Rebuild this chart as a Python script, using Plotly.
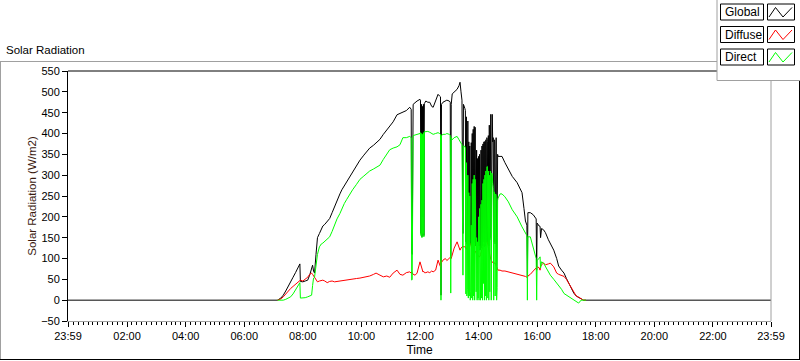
import pandas as pd
import plotly.graph_objects as go

# ---------------- data ----------------
DAY = "2024-01-02 "
START = "2024-01-01 23:59"
END = "2024-01-02 23:59"

times = [
    "07:08", "07:15", "07:20", "07:25", "07:30", "07:35", "07:40", "07:45", "07:50", "07:54",
    "07:55", "08:00", "08:05", "08:10", "08:14", "08:18", "08:20", "08:22", "08:24", "08:27",
    "08:30", "08:34", "08:38", "08:41", "08:45", "08:50", "08:55", "09:00", "09:05", "09:10",
    "09:16", "09:20", "09:25", "09:30", "09:36", "09:42", "09:50", "09:57", "10:05", "10:10",
    "10:17", "10:25", "10:30", "10:38", "10:45", "10:52", "10:58", "11:05", "11:13", "11:19",
    "11:25", "11:32", "11:39", "11:42", "11:43", "11:44", "11:46", "11:50", "11:54", "12:00",
    "12:01", "12:02", "12:03", "12:04", "12:05", "12:06", "12:07", "12:08", "12:09", "12:12",
    "12:16", "12:20", "12:24", "12:27", "12:32", "12:37", "12:40", "12:42", "12:43", "12:44",
    "12:47", "12:52", "12:55", "13:00", "13:02", "13:03", "13:04", "13:06", "13:10", "13:16",
    "13:20", "13:22", "13:24", "13:26", "13:28", "13:29", "13:32", "13:33", "13:34", "13:35",
    "13:36", "13:37", "13:38", "13:39", "13:40", "13:41", "13:42", "13:43", "13:44", "13:45",
    "13:46", "13:47", "13:48", "13:49", "13:50", "13:51", "13:52", "13:53", "13:54", "13:55",
    "13:56", "13:57", "13:58", "13:59", "14:00", "14:01", "14:02", "14:03", "14:04", "14:05",
    "14:06", "14:07", "14:08", "14:09", "14:10", "14:11", "14:12", "14:13", "14:14", "14:15",
    "14:16", "14:17", "14:18", "14:19", "14:20", "14:21", "14:22", "14:23", "14:24", "14:25",
    "14:26", "14:27", "14:28", "14:29", "14:30", "14:31", "14:32", "14:33", "14:34", "14:35",
    "14:36", "14:37", "14:38", "14:39", "14:40", "14:44", "14:48", "14:54", "15:01", "15:09",
    "15:19", "15:29", "15:33", "15:36", "15:39", "15:40", "15:41", "15:46", "15:52", "15:56",
    "15:58", "15:59", "16:00", "16:04", "16:06", "16:07", "16:09", "16:13", "16:17", "16:23",
    "16:27", "16:34", "16:40", "16:44", "16:50", "16:55", "17:00", "17:05", "17:10", "17:15",
    "17:20", "17:25", "17:30", "17:35", "17:40",
]

global_wm2 = [
    0, 5, 12, 22, 32, 42, 55, 66, 78, 87,
    45, 44, 46, 48, 60, 80, 84, 70, 65, 110,
    150, 160, 170, 178, 182, 188, 196, 210, 225, 240,
    255, 265, 275, 285, 296, 308, 322, 336, 348, 355,
    365, 372, 378, 386, 398, 408, 418, 428, 445, 448,
    450, 455, 463, 458, 113, 110, 470, 475, 478, 482,
    480, 160, 470, 152, 465, 200, 470, 155, 472, 478,
    475, 475, 465, 463, 480, 494, 490, 488, 12, 470,
    475, 478, 480, 478, 475, 105, 470, 495, 500, 506,
    515, 523, 500, 480, 160, 470, 460, 455, 140, 440,
    135, 150, 430, 130, 380, 140, 370, 135, 145, 378,
    130, 400, 135, 410, 140, 417, 138, 415, 130, 150,
    360, 135, 340, 140, 345, 130, 350, 120, 135, 360,
    125, 370, 130, 375, 140, 380, 128, 381, 130, 385,
    140, 390, 381, 135, 395, 130, 420, 145, 440, 446,
    150, 445, 446, 380, 390, 140, 385, 380, 135, 388,
    390, 72, 150, 350, 345, 345, 345, 330, 313, 297,
    282, 258, 220, 190, 180, 55, 210, 210, 205, 200,
    195, 72, 185, 178, 177, 150, 172, 169, 162, 145,
    135, 120, 100, 82, 72, 65, 52, 41, 28, 17,
    10, 7, 3, 0, 0,
]

diffuse_wm2 = [
    0, 3, 8, 15, 22, 28, 33, 38, 42, 45,
    48, 46, 50, 55, 62, 65, 62, 58, 55, 47,
    44, 46, 48, 48, 46, 42, 45, 46, 44, 45,
    47, 46, 48, 49, 50, 51, 52, 53, 55, 57,
    58, 62, 65, 60, 56, 58, 55, 65, 72, 62,
    60, 66, 68, 65, 68, 66, 62, 60, 65, 92,
    88, 85, 80, 75, 70, 68, 70, 68, 66, 66,
    68, 66, 70, 68, 72, 96, 85, 80, 95, 90,
    96, 100, 95, 100, 104, 104, 100, 110, 125, 140,
    125, 120, 125, 128, 130, 128, 128, 128, 125, 122,
    125, 128, 130, 132, 135, 134, 137, 136, 132, 128,
    125, 120, 118, 115, 112, 110, 112, 115, 118, 115,
    112, 110, 108, 106, 105, 104, 104, 105, 110, 115,
    120, 125, 128, 130, 132, 135, 138, 138, 140, 140,
    138, 140, 140, 132, 125, 118, 110, 105, 100, 98,
    95, 92, 90, 90, 89, 89, 89, 89, 89, 85,
    82, 80, 78, 75, 72, 72, 70, 70, 68, 65,
    62, 60, 58, 57, 55, 55, 58, 62, 70, 75,
    78, 78, 80, 78, 72, 80, 85, 89, 85, 87,
    89, 80, 65, 62, 60, 57, 50, 40, 28, 17,
    10, 7, 3, 0, 0,
]

direct_wm2 = [
    0, 0, 0, 2, 5, 8, 15, 25, 35, 42,
    5, 5, 6, 8, 10, 12, 35, 53, 55, 90,
    110, 128, 135, 137, 142, 148, 152, 165, 180, 195,
    208, 220, 232, 242, 255, 265, 278, 290, 298, 304,
    310, 315, 318, 324, 338, 350, 361, 365, 368, 373,
    390, 390, 393, 390, 48, 50, 395, 396, 398, 400,
    402, 155, 400, 150, 398, 160, 402, 152, 404, 405,
    405, 403, 400, 398, 400, 402, 400, 398, 0, 395,
    398, 398, 400, 398, 395, 17, 390, 385, 390, 393,
    385, 380, 375, 373, 60, 370, 369, 365, 15, 330,
    10, 25, 300, 5, 258, 10, 250, 0, 20, 180,
    5, 280, 0, 290, 10, 300, 0, 290, 60, 20,
    150, 0, 140, 5, 200, 0, 220, 30, 0, 230,
    5, 240, 0, 280, 40, 290, 0, 300, 10, 310,
    0, 320, 321, 5, 310, 0, 300, 20, 310, 301,
    0, 305, 300, 280, 270, 0, 260, 250, 10, 255,
    250, 0, 30, 240, 245, 255, 255, 248, 236, 217,
    200, 176, 168, 160, 155, 0, 152, 152, 125, 104,
    100, 0, 96, 100, 104, 77, 92, 89, 80, 66,
    60, 50, 42, 35, 26, 16, 12, 8, 4, 0,
    -4, -7, 0, 0, 0,
]

series_names = ["Global", "Diffuse", "Direct"]
series_colors = ["#000000", "#ff0000", "#00ff00"]

y_ticks = [-50, 0, 50, 100, 150, 200, 250, 300, 350, 400, 450, 500, 550]
x_tick_times = [START] + [DAY + t for t in ["02:00", "04:00", "06:00", "08:00", "10:00", "12:00",
                                          "14:00", "16:00", "18:00", "20:00", "22:00"]] + [END]
x_tick_text = ["23:59", "02:00", "04:00", "06:00", "08:00", "10:00", "12:00",
               "14:00", "16:00", "18:00", "20:00", "22:00", "23:59"]

# ---------------- figure ----------------
W, H = 800, 361
L, R, T, B = 68, 771, 71, 321


def px(x):
    return (x - L) / (R - L)


def py(y):
    return (B - y) / (B - T)


FONT = "Liberation Sans, Arial, sans-serif"
day_times = pd.to_datetime([DAY + t for t in times])

fig = go.Figure()
# Global is defined over the whole day (night = 0)
g_x = [pd.Timestamp(START)] + list(day_times) + [pd.Timestamp(END)]
g_y = [0] + global_wm2 + [0]
fig.add_trace(go.Scatter(x=g_x, y=g_y, mode="lines", name=series_names[0],
                         line=dict(color=series_colors[0], width=1)))
fig.add_trace(go.Scatter(x=day_times, y=diffuse_wm2, mode="lines", name=series_names[1],
                         line=dict(color=series_colors[1], width=1)))
fig.add_trace(go.Scatter(x=day_times, y=direct_wm2, mode="lines", name=series_names[2],
                         line=dict(color=series_colors[2], width=1)))

shapes = []


def line(x0, y0, x1, y1, color, width=1):
    shapes.append(dict(type="line", xref="paper", yref="paper", x0=px(x0), y0=py(y0),
                       x1=px(x1), y1=py(y1), line=dict(color=color, width=width), layer="above"))


# outer frame
line(0, 61.5, 717, 61.5, "#a0a0a0")
line(0.5, 61.5, 0.5, 360, "#a0a0a0")
line(799.5, 80, 799.5, 360, "#000000")
line(0, 359.5, 800, 359.5, "#000000")
# plot area top and right
line(L, T, 717, T, "#000000")
line(R, 80, R, B, "#a0a0a0")

# legend panel
shapes.append(dict(type="rect", xref="paper", yref="paper", x0=px(717), y0=py(80.5),
                   x1=px(801), y1=py(-1), fillcolor="white",
                   line=dict(color="#a0a0a0", width=1), layer="above"))
row_tops = [4, 26.5, 49]
annotations = []
for name, color, top in zip(series_names, series_colors, row_tops):
    shapes.append(dict(type="rect", xref="paper", yref="paper", x0=px(720.5), y0=py(top + 16),
                       x1=px(763.5), y1=py(top), fillcolor="white",
                       line=dict(color="#000000", width=1), layer="above"))
    shapes.append(dict(type="rect", xref="paper", yref="paper", x0=px(767.5), y0=py(top + 16),
                       x1=px(794.5), y1=py(top), fillcolor="white",
                       line=dict(color="#000000", width=1), layer="above"))
    path = "M {} {} L {} {} L {} {} L {} {}".format(
        px(769), py(top + 13), px(775.5), py(top + 3.5),
        px(783), py(top + 13), px(792), py(top + 3.5))
    shapes.append(dict(type="path", xref="paper", yref="paper", path=path,
                       line=dict(color=color, width=1), layer="above"))
    annotations.append(dict(xref="paper", yref="paper", x=px(722.5), y=py(top + 8),
                            xanchor="left", yanchor="middle", showarrow=False, text=name,
                            font=dict(family=FONT, size=12, color="#000000")))

annotations.append(dict(xref="paper", yref="paper", x=px(4), y=py(50), xanchor="left",
                        yanchor="middle", showarrow=False, text="Solar Radiation",
                        font=dict(family=FONT, size=11.5, color="#000000")))

fig.update_layout(
    width=W, height=H,
    margin=dict(l=L, r=W - R, t=T, b=H - B),
    paper_bgcolor="white", plot_bgcolor="white",
    showlegend=False,
    font=dict(family=FONT, size=11, color="#000000"),
    shapes=shapes, annotations=annotations,
    xaxis=dict(
        type="date", range=[START, END], automargin=False,
        tickmode="array", tickvals=x_tick_times, ticktext=x_tick_text,
        ticks="outside", ticklen=5, tickcolor="#000000",
        tickfont=dict(family=FONT, size=11, color="#000000"),
        showline=True, linecolor="#a0a0a0", linewidth=1,
        showgrid=False, zeroline=False,
        minor=dict(ticks="outside", ticklen=3, tickcolor="#000000",
                   dtick=600000, tick0=DAY + "00:00", showgrid=False),
        title=dict(text="Time", standoff=4, font=dict(family=FONT, size=12, color="#000000")),
    ),
    yaxis=dict(
        range=[-50, 550], automargin=False, tickmode="array", tickvals=y_ticks,
        ticks="outside", ticklen=5, tickcolor="#000000",
        tickfont=dict(family=FONT, size=11, color="#000000"),
        showline=True, linecolor="#000000", linewidth=1,
        showgrid=False, zeroline=False,
        title=dict(text="Solar Radiation (W/m2)", standoff=2,
                   font=dict(family=FONT, size=11.5, color="#3a1a10")),
    ),
)

fig.write_html("out.html", config={"displayModeBar": False},
               post_script="document.body.style.margin='0';document.body.style.overflow='hidden';")
